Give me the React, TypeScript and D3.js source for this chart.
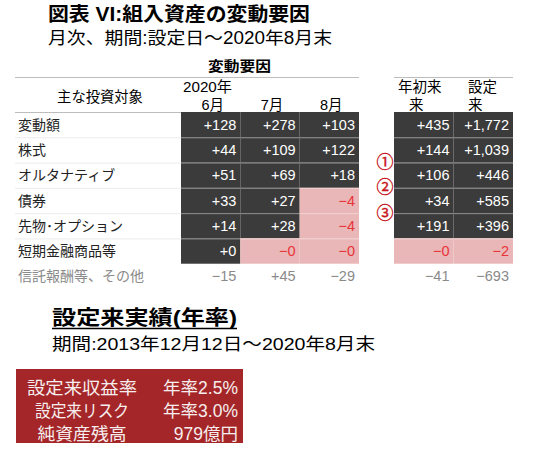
import React, { useEffect, useRef } from 'react';
import * as d3 from 'd3';

// row labels of the table
const categories = ['変動額', '株式', 'オルタナティブ', '債券', '先物･オプション', '短期金融商品等', '信託報酬等、その他'];
const monthCols = ['6月', '7月', '8月'];
const cumCols = ['年初来', '設定来'];

// values (億円), -0 is kept on purpose: the source prints "-0"
const jun = [128, 44, 51, 33, 14, 0, -15];
const jul = [278, 109, 69, 27, 28, -0, 45];
const aug = [103, 122, 18, -4, -4, -0, -29];
const ytd = [435, 144, 106, 34, 191, -0, -41];
const sinceInception = [1772, 1039, 446, 585, 396, -2, -693];

const markers = ['①', '②', '③'];

const perfLabels = ['設定来収益率', '設定来リスク', '純資産残高'];
const perfValues = ['年率2.5%', '年率3.0%', '979億円'];

const JP = '"Liberation Sans", "Noto Sans CJK JP", sans-serif';

const fmt = (v: number) => {
  const neg = v < 0 || Object.is(v, -0);
  return (neg ? '−' : '+') + d3.format(',')(Math.abs(v));
};
const isNeg = (v: number) => v < 0 || Object.is(v, -0);

const App: React.FC = () => {
  const ref = useRef<SVGSVGElement>(null);

  useEffect(() => {
    const svg = d3.select(ref.current);
    svg.selectAll('*').remove();
    svg.attr('font-family', JP);

    // titles (source picture is a bit stretched sideways, so widths are forced)
    svg.append('text').attr('x', 48).attr('y', 21).attr('font-size', 19.5).attr('font-weight', 'bold')
      .attr('textLength', 262).attr('lengthAdjust', 'spacingAndGlyphs')
      .text('図表 VI:組入資産の変動要因');
    svg.append('text').attr('x', 48).attr('y', 44).attr('font-size', 17.5)
      .attr('textLength', 284).attr('lengthAdjust', 'spacingAndGlyphs')
      .text('月次、期間:設定日～2020年8月末');

    const y = d3.scaleBand<string>().domain(categories).range([112, 289]);
    const xm = d3.scaleBand<string>().domain(monthCols).range([181, 359]);
    const xc = d3.scaleBand<string>().domain(cumCols).range([394, 513]);

    // header
    svg.append('text').attr('x', 208).attr('y', 71).attr('font-size', 14).attr('font-weight', 'bold')
      .attr('textLength', 63).attr('lengthAdjust', 'spacingAndGlyphs').text('変動要因');
    svg.append('line').attr('x1', 15).attr('x2', 359).attr('y1', 77.5).attr('y2', 77.5).attr('stroke', '#bdbdbd');
    svg.append('line').attr('x1', 394).attr('x2', 513).attr('y1', 77.5).attr('y2', 77.5).attr('stroke', '#bdbdbd');
    svg.append('line').attr('x1', 15).attr('x2', 181).attr('y1', 112.5).attr('y2', 112.5).attr('stroke', '#bdbdbd');
    svg.append('text').attr('x', 100).attr('y', 102).attr('text-anchor', 'middle').attr('font-size', 14.3).text('主な投資対象');
    svg.append('text').attr('x', 183).attr('y', 92).attr('font-size', 14.5)
      .attr('textLength', 49).attr('lengthAdjust', 'spacingAndGlyphs').text('2020年');
    monthCols.forEach(m => {
      svg.append('text').attr('x', xm(m)! + xm.bandwidth() / 2 + 2).attr('y', 110)
        .attr('text-anchor', 'middle').attr('font-size', 14.5).text(m);
    });
    svg.append('text').attr('x', 398).attr('y', 92).attr('font-size', 14.5).text('年初来');
    svg.append('text').attr('x', 409).attr('y', 110).attr('font-size', 14.5).text('来');
    svg.append('text').attr('x', 468).attr('y', 92).attr('font-size', 14.5).text('設定');
    svg.append('text').attr('x', 468).attr('y', 110).attr('font-size', 14.5).text('来');

    // row labels + faint rules
    categories.forEach((c, i) => {
      const last = i === categories.length - 1;
      svg.append('text').attr('x', 18).attr('y', y(c)! + y.bandwidth() / 2 + 5)
        .attr('font-size', 14).attr('fill', last ? '#8a8a8a' : '#222').text(c);
      if (i > 0 && !last) {
        svg.append('line').attr('x1', 15).attr('x2', 181).attr('y1', y(c)! + 0.5).attr('y2', y(c)! + 0.5)
          .attr('stroke', '#ececec');
      }
    });

    const cellGroups: [d3.ScaleBand<string>, string, number[]][] = [
      [xm, '6月', jun], [xm, '7月', jul], [xm, '8月', aug],
      [xc, '年初来', ytd], [xc, '設定来', sinceInception],
    ];

    cellGroups.forEach(([sx, key, vals]) => {
      vals.forEach((v, i) => {
        const c = categories[i];
        const last = i === categories.length - 1;
        const x0 = sx(key)!;
        const y0 = y(c)!;
        if (!last) {
          svg.append('rect').attr('x', x0).attr('y', y0).attr('width', sx.bandwidth()).attr('height', y.bandwidth())
            .attr('fill', isNeg(v) ? '#e9b7b7' : '#3b3b3b');
          if (i > 0) {
            svg.append('line').attr('x1', x0).attr('x2', x0 + sx.bandwidth()).attr('y1', y0 + 0.5).attr('y2', y0 + 0.5)
              .attr('stroke', isNeg(v) ? '#f2d2d2' : '#8e8e8e');
          }
        }
        svg.append('text').attr('x', x0 + sx.bandwidth() - 4).attr('y', y0 + y.bandwidth() / 2 + 5)
          .attr('text-anchor', 'end').attr('font-size', 14.5)
          .attr('fill', last ? '#8a8a8a' : isNeg(v) ? '#e8333a' : '#ffffff')
          .text(fmt(v));
      });
    });

    // circled markers between rows
    markers.forEach((m, i) => {
      svg.append('text').attr('x', 385).attr('y', y(categories[i + 1])! + y.bandwidth() + 5.5)
        .attr('text-anchor', 'middle').attr('font-size', 17).attr('fill', '#c8161d')
        .attr('stroke', '#c8161d').attr('stroke-width', 0.4)
        .attr('font-family', '"Noto Sans CJK JP", sans-serif').text(m);
    });

    // performance section
    svg.append('text').attr('x', 52).attr('y', 325).attr('font-size', 20).attr('font-weight', 'bold')
      .attr('textLength', 185).attr('lengthAdjust', 'spacingAndGlyphs')
      .text('設定来実績(年率)');
    svg.append('line').attr('x1', 52).attr('x2', 237).attr('y1', 328.5).attr('y2', 328.5)
      .attr('stroke', '#000').attr('stroke-width', 1.5);
    svg.append('text').attr('x', 52).attr('y', 350).attr('font-size', 17)
      .attr('textLength', 323).attr('lengthAdjust', 'spacingAndGlyphs')
      .text('期間:2013年12月12日～2020年8月末');

    const py = d3.scaleBand<string>().domain(perfLabels).range([376, 445]);
    svg.append('rect').attr('x', 16).attr('y', 369).attr('width', 227).attr('height', 74).attr('fill', '#a52628');
    const widths = [110, 94, 89];
    perfLabels.forEach((l, i) => {
      const cy = py(l)! + py.bandwidth() / 2 + 6.5;
      svg.append('text').attr('x', 82 - widths[i] / 2).attr('y', cy)
        .attr('font-size', 17.5).attr('fill', '#f6eeee')
        .attr('textLength', widths[i]).attr('lengthAdjust', 'spacingAndGlyphs').text(l);
      svg.append('text').attr('x', 238).attr('y', cy).attr('text-anchor', 'end')
        .attr('font-size', 17.5).attr('fill', '#f6eeee').text(perfValues[i]);
    });
  }, []);

  return <svg ref={ref} width={550} height={455} style={{ position: 'absolute', left: 0, top: 0, background: '#fff' }} />;
};

export default App;
